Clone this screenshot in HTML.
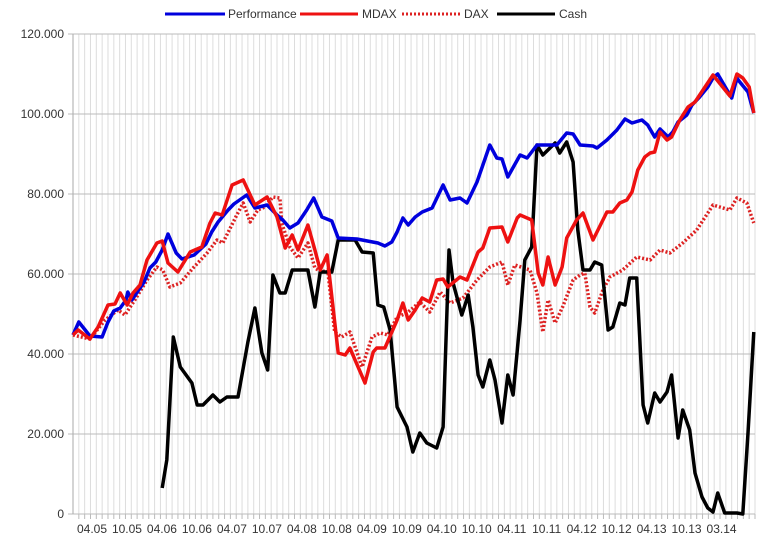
<!DOCTYPE html>
<html><head><meta charset="utf-8"><style>
html,body{margin:0;padding:0;background:#fff;}
svg{display:block;font-family:"Liberation Sans",sans-serif;}
</style></head><body>
<svg id="chart" width="770" height="539" viewBox="0 0 770 539" xmlns="http://www.w3.org/2000/svg">
<g id="grid"></g>
<g id="yaxis"></g>
<g id="xaxis"></g>
<g id="series"></g>
<g id="legend">
  <g><line x1="165" y1="14" x2="225" y2="14" stroke="#0000dd" stroke-width="3"/><text x="228" y="18" font-size="12" fill="#333">Performance</text></g>
  <g><line x1="300" y1="14" x2="358" y2="14" stroke="#ee1111" stroke-width="3"/><text x="362" y="18" font-size="12" fill="#333">MDAX</text></g>
  <g><line x1="402" y1="14" x2="460" y2="14" stroke="#dd2222" stroke-width="3" stroke-dasharray="2,2"/><text x="464" y="18" font-size="12" fill="#333">DAX</text></g>
  <g><line x1="497" y1="14" x2="555" y2="14" stroke="#000" stroke-width="3"/><text x="559" y="18" font-size="12" fill="#333">Cash</text></g>
</g>
</svg>
<script>
// time in months from chart start, values in thousands
const perfT = [0,1,2.1,2.9,5,6,7,8.1,9.1,9.4,10.1,12.2,13.2,14.2,15.3,16.3,17.7,18.7,20.8,22.8,23.8,24.9,26.6,27.6,29.8,31.2,33.3,35,36,37.2,38.6,40.1,41.3,42.7,44.4,45.5,48.7,52.3,53.5,54.7,55.6,56.6,57.5,58.7,59.9,61.6,63.5,64.7,66.4,67.6,69.3,71.5,72.7,73.6,74.6,76.7,77.9,79.6,83,84.7,85.8,87,89.2,89.9,91.6,93.3,94.7,95.9,97.6,98.6,99.8,100.7,102.1,102.9,103.8,105.3,106.2,107.5,108.9,109.8,110.6,111.7,113,113.9,114.4,115.8,116.8];
const perfV = [44.75,48,46,44.5,44.25,48,50.75,51.5,53.5,55.5,53.5,58,61.5,63,66,70,65.25,63.75,64.75,67.5,70.5,73,76,77.5,79.75,76.5,77.25,74.75,73.5,71.5,72.75,76,79,74.25,73.25,69,68.75,67.75,67,68,70.5,74,72.25,74.25,75.5,76.5,82.25,78.5,79,77.75,83,92.25,89,88.75,84.25,89.75,89,92.25,92.25,95.25,95,92.25,92,91.5,93.5,96,98.75,97.75,98.5,97.25,94.25,96.25,94.25,95.5,98,99.75,102.25,104.25,106.75,109,110,107.25,104,109,108,105.5,100.25];
const mdaxT = [0,0.9,2.9,4.3,6,7.2,8.1,9.3,10.3,11.5,12.7,14.4,15.3,16.3,18,20.1,22.1,23.5,24.4,25.6,27.3,29.2,31.2,33.3,35,36.4,37.6,38.6,40.3,41.5,42.4,43.6,45.5,46.7,47.5,50.1,51.5,52.1,53.5,55.6,56.6,57.5,58.7,59.9,61.2,62.4,63.5,64.3,66.4,67.6,69.5,70.3,71.5,73.6,74.6,76.2,76.7,78.7,79.8,80.6,81.5,82.7,83.9,84.7,86.4,87.5,89.2,91.6,92.6,93.8,95,95.9,96.9,98.1,99,99.8,100.7,101.9,102.7,104.1,105.5,106.7,109.8,112.7,113.9,114.9,116,116.8];
const mdaxV = [44.75,46,43.75,46.75,52.25,52.5,55.25,52.25,55.25,57.25,63.5,67.75,68.25,62.75,60.5,65.5,66.75,72.75,75.25,74.75,82.25,83.5,77.25,79.25,74.25,66.5,69.75,66,72.25,66,61,64.75,40.25,39.75,41.5,32.75,40.5,41.5,41.5,48.5,52.75,48.5,51,54,53,58.5,58.75,56.75,59.25,58.5,65.5,66.5,71.5,71.75,68,74,74.75,73.5,60.25,57.25,64.25,57.25,61.75,69,73.5,75.25,68.5,75.5,75.5,77.75,78.5,80.5,86,89.25,90.25,90.5,95.5,93.5,94.25,98.5,101.75,103,109.75,104.5,110,109,106.75,100.25];
const daxT = [0,2.9,5.5,7.7,8.9,10.6,12.7,14.4,15.4,16.6,18.4,20.6,23,24.7,25.7,28.1,29.2,30.4,31.7,32.9,34.3,35.5,35.8,37.2,38.6,40.3,41.5,42.7,43.7,44.9,46.1,47.5,49.6,51.3,52.7,54,55.6,57.3,59.5,61.2,63,64.7,66.9,69.3,71.5,73.6,74.6,75.8,78.4,79.6,80.6,81.5,82.7,84,85.8,87,87.8,88.7,89.5,90.9,92.1,94.3,96.7,99,100.7,102.4,104.6,107,109.8,112.7,113.9,115.6,116.8];
const daxV = [44.75,43.75,48.5,51,49.75,53.5,58.5,61.75,61,56.75,57.75,61.5,65.25,68.5,67.75,74.75,77.75,73,76,76.75,79.25,79,72.75,66.75,64,67.75,61.5,60.5,61,45.5,44.25,45.5,36.75,44.25,45.25,44.75,49.25,50.25,53,50.5,55.5,52.75,54,58.5,61.75,63,57.25,62.25,61,55.25,45.5,53.5,47.75,51.75,58.5,59.75,60.25,51.75,50.25,56,59.25,61,64.25,63.5,66,65.25,67.75,71,77.25,76,79,77.75,72.75];
const cashT = [15.3,16.1,17.2,18.4,20.4,21.3,22.3,24,25.2,26.4,28.3,30,31.2,32.4,33.4,34.3,35.5,36.4,37.6,40.3,41.5,42.4,44.4,45.5,48.4,49.6,51.5,52.3,53.3,54.4,55.6,57.3,58.3,59.5,60.7,62.4,63.5,64.5,65.2,66.7,67.8,68.6,69.5,70.3,71.5,72.4,73.6,74.6,75.5,76.7,77.5,78.7,79.6,80.6,82.7,83.5,84.7,85.8,86.6,87.5,88.7,89.5,90.7,91.8,92.6,93.8,94.7,95.5,96.7,97.8,98.6,99.8,100.7,101.9,102.7,103.8,104.6,105.8,106.7,107.9,108.9,109.8,110.6,111.8,113.9,114.9,115.8,116.8];
const cashV = [6.5,13.5,44.25,36.75,32.75,27.25,27.25,29.75,28,29.25,29.25,43,51.5,40.25,36,59.75,55.25,55.25,61,61,51.75,60.5,60.5,68.5,68.5,65.5,65.25,52.25,51.75,46,26.75,21.75,15.5,20.25,17.75,16.5,21.75,66,57.75,49.75,54.75,46.75,34.75,31.75,38.5,33.5,22.75,34.75,29.75,48.5,63.5,66.75,92.25,89.75,92.75,90.25,93,88,71,61,61,63,62.25,46,46.75,52.75,52.25,59,59,27.25,22.75,30.25,28,30.5,34.75,19,26,21,10.25,4.25,1.5,0.5,5.25,0.25,0.25,0,20.25,45.5];
const yTicks = [0,20,40,60,80,100,120];
const yTickLabels = ["0","20.000","40.000","60.000","80.000","100.000","120.000"];
const xLabels = ["04.05","10.05","04.06","10.06","04.07","10.07","04.08","10.08","04.09","10.09","04.10","10.10","04.11","10.11","04.12","10.12","04.13","10.13","03.14"];
const xLabelStart = 3.26, xLabelStep = 6, totalMonths = 117;

const NS="http://www.w3.org/2000/svg";
const L=73,R=755,T=34,B=514;
const sx=t=>L+t*((R-L)/totalMonths);
const sy=v=>B-v*((B-T)/120);
function mk(tag,attrs,parent){const e=document.createElementNS(NS,tag);for(const k in attrs)e.setAttribute(k,attrs[k]);parent.appendChild(e);return e;}
const grid=document.getElementById('grid'),yax=document.getElementById('yaxis'),xax=document.getElementById('xaxis'),ser=document.getElementById('series');
for(let m=1;m<=totalMonths;m++){
  const x=sx(m);
  const g=mk('line',{x1:x,y1:T,x2:x,y2:B,stroke:'#dddddd','stroke-width':1},grid);
  
  
  const tk=mk('line',{x1:x,y1:B,x2:x,y2:B+5,stroke:'#bbbbbb','stroke-width':1},xax);
  
  
}
yTicks.forEach((v,i)=>{
  const y=sy(v);
  const g=mk('line',{x1:L-5,y1:y,x2:R,y2:y,stroke:'#bbbbbb','stroke-width':1},grid);
  
  
  const t=mk('text',{x:64,y:y+4,'font-size':12,'text-anchor':'end',fill:'#333'},yax);
  t.textContent=yTickLabels[i];
  
  
});
const ax=mk('line',{x1:L,y1:T,x2:L,y2:B,stroke:'#aaaaaa','stroke-width':1},yax);


xLabels.forEach((s,i)=>{
  const t=mk('text',{x:sx(xLabelStart+i*xLabelStep),y:533,'font-size':12,'text-anchor':'middle',fill:'#333'},xax);
  t.textContent=s;
  
  
});
function series(ts,vs,color,dash,name){
  const d=ts.map((t,i)=>(i?'L':'M')+sx(t).toFixed(1)+','+sy(vs[i]).toFixed(1)).join(' ');
  const attrs={d:d,fill:'none',stroke:color,'stroke-width':3.5,'stroke-linejoin':'round'};
  if(dash)attrs['stroke-dasharray']=dash;
  const p=mk('path',attrs,ser);
  
  
}
series(daxT,daxV,'#dd2222','2,2','dax-line');
series(cashT,cashV,'#000000',null,'cash-line');
series(perfT,perfV,'#0000dd',null,'performance-line');
series(mdaxT,mdaxV,'#ee1111',null,'mdax-line');
</script>
</body></html>
